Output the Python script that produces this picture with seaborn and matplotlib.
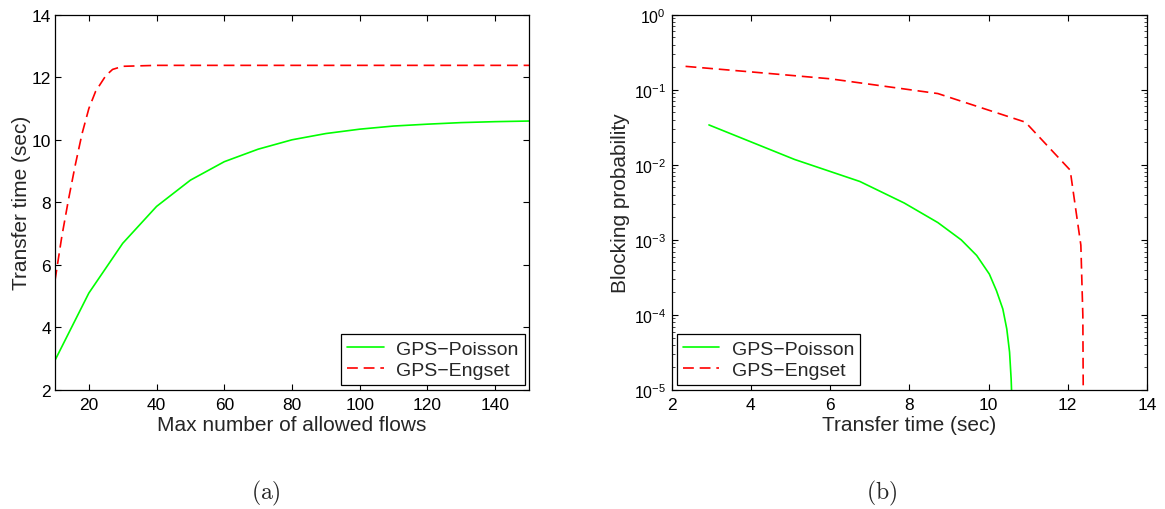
import numpy as np
import pandas as pd
import matplotlib
matplotlib.use('Agg')
import matplotlib.pyplot as plt
import matplotlib.ticker as mticker
import seaborn as sns

# (a) transfer time vs max number of allowed flows
flows = [10, 20, 30, 40, 50, 60, 70, 80, 90, 100, 110, 120, 130, 140, 150]
poisson_time = [2.95, 5.1, 6.69, 7.87, 8.71, 9.3, 9.7, 10.0, 10.2, 10.34, 10.44, 10.5, 10.55, 10.58, 10.6]
engset_flows = [10, 12, 14, 16, 18, 20, 22, 25, 27, 30, 40, 60, 80, 100, 120, 150]
engset_time = [5.5, 6.9, 8.1, 9.2, 10.2, 11.0, 11.55, 12.05, 12.25, 12.35, 12.38, 12.38, 12.38, 12.38, 12.38, 12.38]

# (b) blocking probability vs transfer time
bp_poisson_time = [2.94, 5.1, 6.75, 7.87, 8.72, 9.31, 9.7, 10.02, 10.2, 10.36, 10.46, 10.53, 10.57, 10.6]
bp_poisson = [0.034, 0.0118, 0.006, 0.0031, 0.0017, 0.001, 0.00062, 0.00035, 0.00021, 0.00012, 6.5e-5, 3.2e-5, 1.4e-5, 5e-6]
bp_engset_time = [2.35, 4.0, 6.0, 8.72, 10.93, 12.06, 12.33, 12.38, 12.4]
bp_engset = [0.205, 0.173, 0.14, 0.089, 0.037, 0.0085, 8.5e-4, 1e-4, 1e-6]

sns.set_style('ticks')
plt.rcParams['font.family'] = ['Liberation Sans', 'DejaVu Sans']
plt.rcParams['mathtext.default'] = 'regular'

GREEN = '#00ff00'
RED = '#ff0000'
DASH = (0, (6.5, 3.5))

fig = plt.figure(figsize=(11.65, 5.10), dpi=100)
ax1 = fig.add_axes([55 / 1165, 119 / 510, 474 / 1165, 375.3 / 510])
ax2 = fig.add_axes([671.7 / 1165, 119 / 510, 475.3 / 1165, 375.3 / 510])

# left plot
df_p = pd.DataFrame({'x': flows, 'y': poisson_time})
df_e = pd.DataFrame({'x': engset_flows, 'y': engset_time})
sns.lineplot(data=df_p, x='x', y='y', ax=ax1, color=GREEN, lw=1.2,
             label='GPS\u2212Poisson', sort=False, estimator=None)
sns.lineplot(data=df_e, x='x', y='y', ax=ax1, color=RED, lw=1.2,
             linestyle=DASH, label='GPS\u2212Engset', sort=False, estimator=None)
ax1.set_xlim(10, 150)
ax1.set_ylim(2, 14)
ax1.set_xticks(range(20, 141, 20))
ax1.set_yticks(range(2, 15, 2))
ax1.set_xlabel('Max number of allowed flows', fontsize=15)
ax1.set_ylabel('Transfer time (sec)', fontsize=15)
ax1.xaxis.set_label_coords(0.5, -0.067)
ax1.yaxis.set_label_coords(-0.051, 0.5)

# right plot
df_bp = pd.DataFrame({'x': bp_poisson_time, 'y': bp_poisson})
df_be = pd.DataFrame({'x': bp_engset_time, 'y': bp_engset})
sns.lineplot(data=df_bp, x='x', y='y', ax=ax2, color=GREEN, lw=1.2,
             label='GPS\u2212Poisson', sort=False, estimator=None)
sns.lineplot(data=df_be, x='x', y='y', ax=ax2, color=RED, lw=1.2,
             linestyle=DASH, label='GPS\u2212Engset', sort=False, estimator=None)
ax2.set_yscale('log')
ax2.set_xlim(2, 14)
ax2.set_ylim(1e-5, 1)
ax2.set_xticks(range(2, 15, 2))
ax2.yaxis.set_major_locator(mticker.LogLocator(base=10, numticks=10))
ax2.yaxis.set_minor_locator(mticker.LogLocator(base=10, subs=np.arange(2, 10), numticks=10))
ax2.yaxis.set_minor_formatter(mticker.NullFormatter())
ax2.set_xlabel('Transfer time (sec)', fontsize=15)
ax2.set_ylabel('Blocking probability', fontsize=15)
ax2.xaxis.set_label_coords(0.5, -0.067)
ax2.yaxis.set_label_coords(-0.088, 0.5)

for ax in (ax1, ax2):
    for s in ax.spines.values():
        s.set_linewidth(0.9)
        s.set_color('black')
    ax.tick_params(which='major', direction='in', length=4, width=0.8,
                   top=True, right=True, labelsize=12.5, colors='black')
    ax.tick_params(which='minor', direction='in', length=2.2, width=0.6,
                   top=False, right=True, left=True)
    ax.tick_params(axis='x', pad=5)
    ax.tick_params(axis='y', pad=3)
ax2.tick_params(axis='y', which='major', labelsize=11.5, pad=4)

leg_kw = dict(borderaxespad=0, fontsize=14, frameon=True, fancybox=False,
              handlelength=1.9, handletextpad=0.65, borderpad=0.3, labelspacing=0.2)
leg1 = ax1.legend(loc='lower right', bbox_to_anchor=(0.9907, 0.0133), **leg_kw)
leg2 = ax2.legend(loc='lower left', bbox_to_anchor=(0.0105, 0.0133), **leg_kw)
for leg in (leg1, leg2):
    leg.get_frame().set_edgecolor('black')
    leg.get_frame().set_linewidth(0.9)
    leg.get_frame().set_alpha(1)

# captions in Computer Modern
fig.text(266 / 1165, 1 - 493 / 510, r'$\mathrm{(a)}$', ha='center', va='center',
         fontsize=17, math_fontfamily='cm')
fig.text(882 / 1165, 1 - 493 / 510, r'$\mathrm{(b)}$', ha='center', va='center',
         fontsize=17, math_fontfamily='cm')

fig.savefig('out.png', dpi=100)
